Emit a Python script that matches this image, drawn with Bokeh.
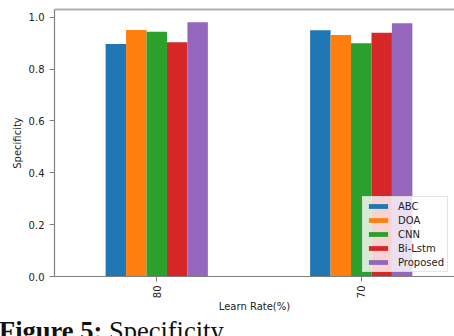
from bokeh.plotting import figure
from bokeh.models import (ColumnDataSource, Range1d, FixedTicker, PrintfTickFormatter,
                          LinearAxis, Div)
from bokeh.layouts import column
from bokeh.transform import dodge
from bokeh.embed import file_html
from bokeh.resources import INLINE
from math import pi

# Specificity per model at each learning rate
learn_rates = ["80", "70"]
models = ["ABC", "DOA", "CNN", "Bi-Lstm", "Proposed"]
abc = [0.897, 0.950]
doa = [0.951, 0.932]
cnn = [0.944, 0.900]
bilstm = [0.904, 0.940]
proposed = [0.981, 0.977]
y_ticks = [0.0, 0.2, 0.4, 0.6, 0.8, 1.0]

colors = ["#1f77b4", "#ff7f0e", "#2ca02c", "#d62728", "#9467bd"]
series = [abc, doa, cnn, bilstm, proposed]

data = {"x": list(range(len(learn_rates)))}
for name, vals in zip(models, series):
    data[name] = vals
source = ColumnDataSource(data)

FONT = "DejaVu Sans"

fig = figure(width=454, height=316, output_backend="svg", toolbar_location=None,
             x_range=Range1d(-0.5, 1.456), y_range=Range1d(0, 1.03),
             min_border_left=54, min_border_right=0, min_border_top=9,
             min_border_bottom=40)
fig.outline_line_color = None
fig.xgrid.visible = False
fig.ygrid.visible = False
fig.background_fill_color = "white"
fig.border_fill_color = "white"

bar_w = 0.1
for i, (name, col) in enumerate(zip(models, colors)):
    off = (i - 2) * bar_w
    fig.vbar(x=dodge("x", off), top=name, width=bar_w, source=source,
             fill_color=col, line_color=None, legend_label=name)

# y axis
fig.yaxis.ticker = FixedTicker(ticks=y_ticks)
fig.yaxis.formatter = PrintfTickFormatter(format="%.1f")
fig.yaxis.minor_tick_line_color = None
fig.yaxis.major_tick_out = 5
fig.yaxis.major_tick_in = 0
fig.yaxis.major_label_standoff = 5
fig.yaxis.axis_label = "Specificity"
fig.yaxis.axis_label_standoff = 3

# x axis
fig.xaxis.ticker = FixedTicker(ticks=list(range(len(learn_rates))))
fig.xaxis.major_label_overrides = {i: lab for i, lab in enumerate(learn_rates)}
fig.xaxis.major_label_orientation = pi / 2
fig.xaxis.minor_tick_line_color = None
fig.xaxis.major_tick_out = 5
fig.xaxis.major_tick_in = 0
fig.xaxis.major_label_standoff = 4
fig.xaxis.axis_label = "Learn Rate(%)"
fig.xaxis.axis_label_standoff = 0

for ax in (fig.xaxis[0], fig.yaxis[0]):
    ax.axis_line_color = "#808080"
    ax.axis_line_width = 1.2
    ax.major_tick_line_color = "#808080"
    ax.major_label_text_font = FONT
    ax.major_label_text_font_size = "10px"
    ax.major_label_text_color = "#222222"
    ax.axis_label_text_font = FONT
    ax.axis_label_text_font_size = "10px"
    ax.axis_label_text_font_style = "normal"
    ax.axis_label_text_color = "#222222"

# top spine
top = LinearAxis(ticker=FixedTicker(ticks=[]), major_tick_line_color=None,
                 minor_tick_line_color=None, major_label_text_font_size="0px",
                 major_label_standoff=0, axis_line_color="#b0b0b0",
                 axis_line_width=2)
fig.add_layout(top, "above")

# legend
lg = fig.legend[0]
lg.location = (308, 4)
lg.label_text_font = FONT
lg.label_text_font_size = "10px"
lg.label_text_color = "#222222"
lg.glyph_width = 24
lg.glyph_height = 6
lg.label_height = 12
lg.label_standoff = 8
lg.spacing = 2
lg.padding = 3
lg.margin = 0
lg.border_line_color = "#cccccc"
lg.background_fill_alpha = 0.8

# figure caption under the chart
caption = Div(
    text="<b>Figure 5:</b> Specificity",
    width=454, height=20, margin=(0, 0, 0, 0),
    styles={"font-family": "'Liberation Serif', serif", "font-size": "26.5px",
            "line-height": "26px", "color": "#111111", "white-space": "nowrap",
            "margin-left": "-1px", "padding-top": "2px"},
)

p = column(fig, caption, spacing=0)

open("out.html", "w").write(file_html(p, INLINE))
